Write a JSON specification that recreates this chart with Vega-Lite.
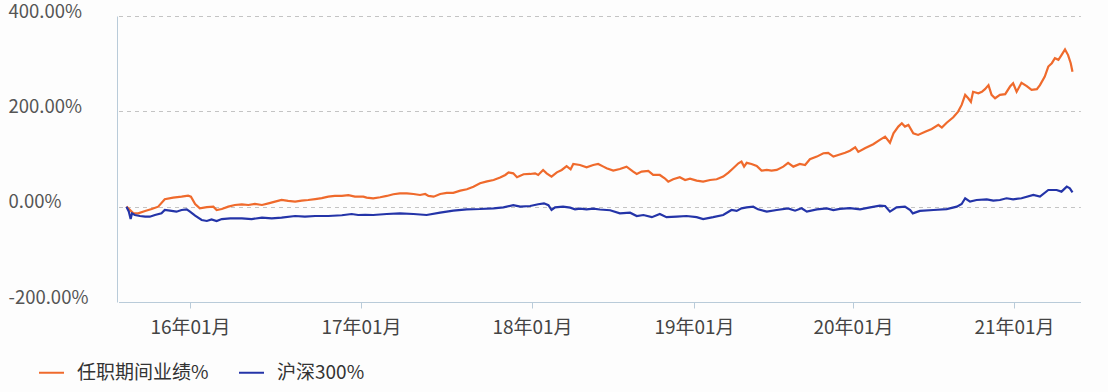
{
  "$schema": "https://vega.github.io/schema/vega-lite/v6.json",
  "width": 965,
  "height": 286,
  "autosize": "none",
  "padding": {"left": 117, "top": 16, "right": 26, "bottom": 90},
  "background": "#fdfdfd",
  "config": {"view": {"stroke": null}, "font": "Noto Sans CJK SC"},
  "data": {
    "format": {"parse": {"d": "date:'%Y-%j'"}},
    "values": [
      {"s": "任职期间业绩%", "d": "2015-230", "v": 0},
      {"s": "任职期间业绩%", "d": "2015-245", "v": -14},
      {"s": "任职期间业绩%", "d": "2015-255", "v": -14},
      {"s": "任职期间业绩%", "d": "2015-270", "v": -9},
      {"s": "任职期间业绩%", "d": "2015-284", "v": -5},
      {"s": "任职期间业绩%", "d": "2015-298", "v": 0},
      {"s": "任职期间业绩%", "d": "2015-312", "v": 15.5},
      {"s": "任职期间业绩%", "d": "2015-330", "v": 19},
      {"s": "任职期间业绩%", "d": "2015-348", "v": 21},
      {"s": "任职期间业绩%", "d": "2015-362", "v": 23},
      {"s": "任职期间业绩%", "d": "2016-003", "v": 21},
      {"s": "任职期间业绩%", "d": "2016-012", "v": 5.7},
      {"s": "任职期间业绩%", "d": "2016-022", "v": -3.5},
      {"s": "任职期间业绩%", "d": "2016-037", "v": -1},
      {"s": "任职期间业绩%", "d": "2016-051", "v": 0},
      {"s": "任职期间业绩%", "d": "2016-058", "v": -7},
      {"s": "任职期间业绩%", "d": "2016-069", "v": -5},
      {"s": "任职期间业绩%", "d": "2016-083", "v": 0},
      {"s": "任职期间业绩%", "d": "2016-097", "v": 3.5},
      {"s": "任职期间业绩%", "d": "2016-112", "v": 5},
      {"s": "任职期间业绩%", "d": "2016-126", "v": 3.5},
      {"s": "任职期间业绩%", "d": "2016-140", "v": 5.7},
      {"s": "任职期间业绩%", "d": "2016-155", "v": 3.5},
      {"s": "任职期间业绩%", "d": "2016-169", "v": 7},
      {"s": "任职期间业绩%", "d": "2016-183", "v": 10.5},
      {"s": "任职期间业绩%", "d": "2016-197", "v": 14},
      {"s": "任职期间业绩%", "d": "2016-211", "v": 12},
      {"s": "任职期间业绩%", "d": "2016-226", "v": 10.5},
      {"s": "任职期间业绩%", "d": "2016-240", "v": 12.6},
      {"s": "任职期间业绩%", "d": "2016-254", "v": 14},
      {"s": "任职期间业绩%", "d": "2016-269", "v": 16},
      {"s": "任职期间业绩%", "d": "2016-283", "v": 18},
      {"s": "任职期间业绩%", "d": "2016-297", "v": 21},
      {"s": "任职期间业绩%", "d": "2016-311", "v": 22.5},
      {"s": "任职期间业绩%", "d": "2016-326", "v": 22.5},
      {"s": "任职期间业绩%", "d": "2016-340", "v": 24},
      {"s": "任职期间业绩%", "d": "2016-354", "v": 21},
      {"s": "任职期间业绩%", "d": "2017-006", "v": 21},
      {"s": "任职期间业绩%", "d": "2017-013", "v": 19},
      {"s": "任职期间业绩%", "d": "2017-027", "v": 17.6},
      {"s": "任职期间业绩%", "d": "2017-042", "v": 19.7},
      {"s": "任职期间业绩%", "d": "2017-056", "v": 22.5},
      {"s": "任职期间业绩%", "d": "2017-070", "v": 26},
      {"s": "任职期间业绩%", "d": "2017-084", "v": 28},
      {"s": "任职期间业绩%", "d": "2017-099", "v": 28},
      {"s": "任职期间业绩%", "d": "2017-113", "v": 26.6},
      {"s": "任职期间业绩%", "d": "2017-127", "v": 24.5},
      {"s": "任职期间业绩%", "d": "2017-138", "v": 26.6},
      {"s": "任职期间业绩%", "d": "2017-145", "v": 22.5},
      {"s": "任职期间业绩%", "d": "2017-156", "v": 21},
      {"s": "任职期间业绩%", "d": "2017-170", "v": 26.6},
      {"s": "任职期间业绩%", "d": "2017-184", "v": 29},
      {"s": "任职期间业绩%", "d": "2017-198", "v": 29},
      {"s": "任职期间业绩%", "d": "2017-213", "v": 33.6},
      {"s": "任职期间业绩%", "d": "2017-227", "v": 36.5},
      {"s": "任职期间业绩%", "d": "2017-241", "v": 42},
      {"s": "任职期间业绩%", "d": "2017-255", "v": 49},
      {"s": "任职期间业绩%", "d": "2017-270", "v": 53},
      {"s": "任职期间业绩%", "d": "2017-284", "v": 56},
      {"s": "任职期间业绩%", "d": "2017-298", "v": 61},
      {"s": "任职期间业绩%", "d": "2017-309", "v": 66.5},
      {"s": "任职期间业绩%", "d": "2017-316", "v": 72},
      {"s": "任职期间业绩%", "d": "2017-326", "v": 70},
      {"s": "任职期间业绩%", "d": "2017-334", "v": 61.7},
      {"s": "任职期间业绩%", "d": "2017-348", "v": 68},
      {"s": "任职期间业绩%", "d": "2017-362", "v": 68.6},
      {"s": "任职期间业绩%", "d": "2018-008", "v": 70},
      {"s": "任职期间业绩%", "d": "2018-015", "v": 66.5},
      {"s": "任职期间业绩%", "d": "2018-026", "v": 77},
      {"s": "任职期间业绩%", "d": "2018-034", "v": 70},
      {"s": "任职期间业绩%", "d": "2018-045", "v": 63},
      {"s": "任职期间业绩%", "d": "2018-057", "v": 72},
      {"s": "任职期间业绩%", "d": "2018-068", "v": 77},
      {"s": "任职期间业绩%", "d": "2018-079", "v": 85},
      {"s": "任职期间业绩%", "d": "2018-088", "v": 78.5},
      {"s": "任职期间业绩%", "d": "2018-094", "v": 89.6},
      {"s": "任职期间业绩%", "d": "2018-109", "v": 87.5},
      {"s": "任职期间业绩%", "d": "2018-124", "v": 82.7},
      {"s": "任职期间业绩%", "d": "2018-139", "v": 87.5},
      {"s": "任职期间业绩%", "d": "2018-150", "v": 89.6},
      {"s": "任职期间业绩%", "d": "2018-162", "v": 84},
      {"s": "任职期间业绩%", "d": "2018-169", "v": 80.6},
      {"s": "任职期间业绩%", "d": "2018-184", "v": 75.6},
      {"s": "任职期间业绩%", "d": "2018-199", "v": 79},
      {"s": "任职期间业绩%", "d": "2018-214", "v": 84},
      {"s": "任职期间业绩%", "d": "2018-229", "v": 73.5},
      {"s": "任职期间业绩%", "d": "2018-237", "v": 68.6},
      {"s": "任职期间业绩%", "d": "2018-248", "v": 73.5},
      {"s": "任职期间业绩%", "d": "2018-263", "v": 75},
      {"s": "任职期间业绩%", "d": "2018-274", "v": 66.5},
      {"s": "任职期间业绩%", "d": "2018-289", "v": 66.5},
      {"s": "任职期间业绩%", "d": "2018-300", "v": 59.6},
      {"s": "任职期间业绩%", "d": "2018-308", "v": 52.5},
      {"s": "任职期间业绩%", "d": "2018-319", "v": 57.5},
      {"s": "任职期间业绩%", "d": "2018-334", "v": 61.7},
      {"s": "任职期间业绩%", "d": "2018-346", "v": 56},
      {"s": "任职期间业绩%", "d": "2018-357", "v": 58.8},
      {"s": "任职期间业绩%", "d": "2019-007", "v": 54.6},
      {"s": "任职期间业绩%", "d": "2019-022", "v": 52.5},
      {"s": "任职期间业绩%", "d": "2019-038", "v": 56},
      {"s": "任职期间业绩%", "d": "2019-053", "v": 57.5},
      {"s": "任职期间业绩%", "d": "2019-068", "v": 63},
      {"s": "任职期间业绩%", "d": "2019-080", "v": 71.4},
      {"s": "任职期间业绩%", "d": "2019-091", "v": 80.6},
      {"s": "任职期间业绩%", "d": "2019-103", "v": 91},
      {"s": "任职期间业绩%", "d": "2019-110", "v": 94.5},
      {"s": "任职期间业绩%", "d": "2019-116", "v": 84},
      {"s": "任职期间业绩%", "d": "2019-122", "v": 92},
      {"s": "任职期间业绩%", "d": "2019-133", "v": 89.6},
      {"s": "任职期间业绩%", "d": "2019-145", "v": 85.4},
      {"s": "任职期间业绩%", "d": "2019-156", "v": 75.6},
      {"s": "任职期间业绩%", "d": "2019-168", "v": 77},
      {"s": "任职期间业绩%", "d": "2019-179", "v": 75.6},
      {"s": "任职期间业绩%", "d": "2019-191", "v": 77},
      {"s": "任职期间业绩%", "d": "2019-206", "v": 84},
      {"s": "任职期间业绩%", "d": "2019-217", "v": 92},
      {"s": "任职期间业绩%", "d": "2019-229", "v": 84},
      {"s": "任职期间业绩%", "d": "2019-244", "v": 89.6},
      {"s": "任职期间业绩%", "d": "2019-256", "v": 87.5},
      {"s": "任职期间业绩%", "d": "2019-267", "v": 99.5},
      {"s": "任职期间业绩%", "d": "2019-283", "v": 105},
      {"s": "任职期间业绩%", "d": "2019-298", "v": 112},
      {"s": "任职期间业绩%", "d": "2019-309", "v": 113},
      {"s": "任职期间业绩%", "d": "2019-321", "v": 105},
      {"s": "任职期间业绩%", "d": "2019-332", "v": 108.5},
      {"s": "任职期间业绩%", "d": "2019-348", "v": 113},
      {"s": "任职期间业绩%", "d": "2019-359", "v": 117.5},
      {"s": "任职期间业绩%", "d": "2020-006", "v": 124.7},
      {"s": "任职期间业绩%", "d": "2020-013", "v": 115},
      {"s": "任职期间业绩%", "d": "2020-028", "v": 122.6},
      {"s": "任职期间业绩%", "d": "2020-047", "v": 131},
      {"s": "任职期间业绩%", "d": "2020-062", "v": 140},
      {"s": "任职期间业绩%", "d": "2020-074", "v": 147},
      {"s": "任职期间业绩%", "d": "2020-085", "v": 134},
      {"s": "任职期间业绩%", "d": "2020-093", "v": 154},
      {"s": "任职期间业绩%", "d": "2020-104", "v": 168},
      {"s": "任职期间业绩%", "d": "2020-112", "v": 175},
      {"s": "任职期间业绩%", "d": "2020-119", "v": 168},
      {"s": "任职期间业绩%", "d": "2020-127", "v": 171.5},
      {"s": "任职期间业绩%", "d": "2020-138", "v": 154},
      {"s": "任职期间业绩%", "d": "2020-149", "v": 150.5},
      {"s": "任职期间业绩%", "d": "2020-165", "v": 157},
      {"s": "任职期间业绩%", "d": "2020-180", "v": 163},
      {"s": "任职期间业绩%", "d": "2020-195", "v": 171.5},
      {"s": "任职期间业绩%", "d": "2020-203", "v": 165.8},
      {"s": "任职期间业绩%", "d": "2020-214", "v": 176},
      {"s": "任职期间业绩%", "d": "2020-229", "v": 187.6},
      {"s": "任职期间业绩%", "d": "2020-240", "v": 199.4},
      {"s": "任职期间业绩%", "d": "2020-248", "v": 213.5},
      {"s": "任职期间业绩%", "d": "2020-256", "v": 234.5},
      {"s": "任职期间业绩%", "d": "2020-263", "v": 227.5},
      {"s": "任职期间业绩%", "d": "2020-269", "v": 220},
      {"s": "任职期间业绩%", "d": "2020-274", "v": 241},
      {"s": "任职期间业绩%", "d": "2020-286", "v": 238},
      {"s": "任职期间业绩%", "d": "2020-294", "v": 241},
      {"s": "任职期间业绩%", "d": "2020-301", "v": 246.4},
      {"s": "任职期间业绩%", "d": "2020-309", "v": 255},
      {"s": "任职期间业绩%", "d": "2020-316", "v": 234.5},
      {"s": "任职期间业绩%", "d": "2020-324", "v": 227.5},
      {"s": "任职期间业绩%", "d": "2020-335", "v": 234.5},
      {"s": "任职期间业绩%", "d": "2020-347", "v": 236},
      {"s": "任职期间业绩%", "d": "2020-358", "v": 252},
      {"s": "任职期间业绩%", "d": "2020-365", "v": 259},
      {"s": "任职期间业绩%", "d": "2021-007", "v": 241},
      {"s": "任职期间业绩%", "d": "2021-018", "v": 260},
      {"s": "任职期间业绩%", "d": "2021-030", "v": 253},
      {"s": "任职期间业绩%", "d": "2021-041", "v": 245},
      {"s": "任职期间业绩%", "d": "2021-053", "v": 246.4},
      {"s": "任职期间业绩%", "d": "2021-060", "v": 255},
      {"s": "任职期间业绩%", "d": "2021-071", "v": 273},
      {"s": "任职期间业绩%", "d": "2021-079", "v": 294},
      {"s": "任职期间业绩%", "d": "2021-087", "v": 301},
      {"s": "任职期间业绩%", "d": "2021-094", "v": 311.5},
      {"s": "任职期间业绩%", "d": "2021-102", "v": 308},
      {"s": "任职期间业绩%", "d": "2021-109", "v": 318},
      {"s": "任职期间业绩%", "d": "2021-117", "v": 330},
      {"s": "任职期间业绩%", "d": "2021-124", "v": 318},
      {"s": "任职期间业绩%", "d": "2021-130", "v": 301},
      {"s": "任职期间业绩%", "d": "2021-134", "v": 283},
      {"s": "沪深300%", "d": "2015-230", "v": 0},
      {"s": "沪深300%", "d": "2015-235", "v": -10},
      {"s": "沪深300%", "d": "2015-239", "v": -26},
      {"s": "沪深300%", "d": "2015-242", "v": -14},
      {"s": "沪深300%", "d": "2015-248", "v": -17.5},
      {"s": "沪深300%", "d": "2015-259", "v": -19.6},
      {"s": "沪深300%", "d": "2015-270", "v": -21},
      {"s": "沪深300%", "d": "2015-280", "v": -21},
      {"s": "沪深300%", "d": "2015-291", "v": -17.5},
      {"s": "沪深300%", "d": "2015-305", "v": -14},
      {"s": "沪深300%", "d": "2015-312", "v": -7},
      {"s": "沪深300%", "d": "2015-323", "v": -8.4},
      {"s": "沪深300%", "d": "2015-337", "v": -10.5},
      {"s": "沪深300%", "d": "2015-348", "v": -7},
      {"s": "沪深300%", "d": "2015-359", "v": -5.6},
      {"s": "沪深300%", "d": "2016-001", "v": -10.5},
      {"s": "沪深300%", "d": "2016-012", "v": -19},
      {"s": "沪深300%", "d": "2016-026", "v": -28},
      {"s": "沪深300%", "d": "2016-037", "v": -30},
      {"s": "沪深300%", "d": "2016-047", "v": -26.6},
      {"s": "沪深300%", "d": "2016-058", "v": -30},
      {"s": "沪深300%", "d": "2016-069", "v": -26},
      {"s": "沪深300%", "d": "2016-087", "v": -24.5},
      {"s": "沪深300%", "d": "2016-112", "v": -24.5},
      {"s": "沪深300%", "d": "2016-133", "v": -26},
      {"s": "沪深300%", "d": "2016-155", "v": -23},
      {"s": "沪深300%", "d": "2016-176", "v": -24.5},
      {"s": "沪深300%", "d": "2016-197", "v": -23},
      {"s": "沪深300%", "d": "2016-226", "v": -19.6},
      {"s": "沪深300%", "d": "2016-247", "v": -21},
      {"s": "沪深300%", "d": "2016-269", "v": -19.6},
      {"s": "沪深300%", "d": "2016-297", "v": -19.6},
      {"s": "沪深300%", "d": "2016-326", "v": -18},
      {"s": "沪深300%", "d": "2016-347", "v": -15.4},
      {"s": "沪深300%", "d": "2016-361", "v": -17.5},
      {"s": "沪深300%", "d": "2017-010", "v": -17},
      {"s": "沪深300%", "d": "2017-027", "v": -17.5},
      {"s": "沪深300%", "d": "2017-056", "v": -15.4},
      {"s": "沪深300%", "d": "2017-084", "v": -14},
      {"s": "沪深300%", "d": "2017-113", "v": -15.4},
      {"s": "沪深300%", "d": "2017-141", "v": -17.5},
      {"s": "沪深300%", "d": "2017-170", "v": -12.6},
      {"s": "沪深300%", "d": "2017-198", "v": -8.4},
      {"s": "沪深300%", "d": "2017-227", "v": -5.6},
      {"s": "沪深300%", "d": "2017-255", "v": -4.9},
      {"s": "沪深300%", "d": "2017-284", "v": -3.5},
      {"s": "沪深300%", "d": "2017-305", "v": -1.4},
      {"s": "沪深300%", "d": "2017-326", "v": 3},
      {"s": "沪深300%", "d": "2017-341", "v": 0},
      {"s": "沪深300%", "d": "2017-362", "v": 1.4},
      {"s": "沪深300%", "d": "2018-015", "v": 5},
      {"s": "沪深300%", "d": "2018-028", "v": 7},
      {"s": "沪深300%", "d": "2018-038", "v": 3},
      {"s": "沪深300%", "d": "2018-045", "v": -7},
      {"s": "沪深300%", "d": "2018-053", "v": -1.4},
      {"s": "沪深300%", "d": "2018-071", "v": 0},
      {"s": "沪深300%", "d": "2018-087", "v": -2},
      {"s": "沪深300%", "d": "2018-098", "v": -5.6},
      {"s": "沪深300%", "d": "2018-109", "v": -4},
      {"s": "沪深300%", "d": "2018-124", "v": -5.6},
      {"s": "沪深300%", "d": "2018-139", "v": -4},
      {"s": "沪深300%", "d": "2018-154", "v": -6},
      {"s": "沪深300%", "d": "2018-177", "v": -7.5},
      {"s": "沪深300%", "d": "2018-199", "v": -14},
      {"s": "沪深300%", "d": "2018-222", "v": -12.6},
      {"s": "沪深300%", "d": "2018-237", "v": -19.6},
      {"s": "沪深300%", "d": "2018-252", "v": -17.5},
      {"s": "沪深300%", "d": "2018-271", "v": -22},
      {"s": "沪深300%", "d": "2018-289", "v": -15.4},
      {"s": "沪深300%", "d": "2018-304", "v": -22},
      {"s": "沪深300%", "d": "2018-327", "v": -21},
      {"s": "沪深300%", "d": "2018-349", "v": -19.6},
      {"s": "沪深300%", "d": "2019-007", "v": -22},
      {"s": "沪深300%", "d": "2019-022", "v": -26},
      {"s": "沪深300%", "d": "2019-045", "v": -22},
      {"s": "沪深300%", "d": "2019-068", "v": -17.5},
      {"s": "沪深300%", "d": "2019-087", "v": -7},
      {"s": "沪深300%", "d": "2019-099", "v": -9},
      {"s": "沪深300%", "d": "2019-110", "v": -3.5},
      {"s": "沪深300%", "d": "2019-122", "v": -1.4},
      {"s": "沪深300%", "d": "2019-137", "v": 0},
      {"s": "沪深300%", "d": "2019-148", "v": -5.6},
      {"s": "沪深300%", "d": "2019-168", "v": -10.5},
      {"s": "沪深300%", "d": "2019-191", "v": -7},
      {"s": "沪深300%", "d": "2019-217", "v": -3.5},
      {"s": "沪深300%", "d": "2019-233", "v": -8.4},
      {"s": "沪深300%", "d": "2019-248", "v": -3.5},
      {"s": "沪深300%", "d": "2019-260", "v": -10.5},
      {"s": "沪深300%", "d": "2019-283", "v": -5.6},
      {"s": "沪深300%", "d": "2019-306", "v": -3.5},
      {"s": "沪深300%", "d": "2019-321", "v": -7},
      {"s": "沪深300%", "d": "2019-336", "v": -4.5},
      {"s": "沪深300%", "d": "2019-359", "v": -3},
      {"s": "沪深300%", "d": "2020-017", "v": -5.6},
      {"s": "沪深300%", "d": "2020-040", "v": -1.4},
      {"s": "沪深300%", "d": "2020-062", "v": 2},
      {"s": "沪深300%", "d": "2020-074", "v": 1.4},
      {"s": "沪深300%", "d": "2020-085", "v": -10.5},
      {"s": "沪深300%", "d": "2020-100", "v": -1.4},
      {"s": "沪深300%", "d": "2020-119", "v": 0},
      {"s": "沪深300%", "d": "2020-131", "v": -7},
      {"s": "沪深300%", "d": "2020-137", "v": -14},
      {"s": "沪深300%", "d": "2020-153", "v": -9},
      {"s": "沪深300%", "d": "2020-184", "v": -7},
      {"s": "沪深300%", "d": "2020-214", "v": -5},
      {"s": "沪深300%", "d": "2020-237", "v": 0},
      {"s": "沪深300%", "d": "2020-248", "v": 5.6},
      {"s": "沪深300%", "d": "2020-256", "v": 17.6},
      {"s": "沪深300%", "d": "2020-267", "v": 10.5},
      {"s": "沪深300%", "d": "2020-282", "v": 14},
      {"s": "沪深300%", "d": "2020-305", "v": 15.4},
      {"s": "沪深300%", "d": "2020-320", "v": 12.6},
      {"s": "沪深300%", "d": "2020-335", "v": 14},
      {"s": "沪深300%", "d": "2020-350", "v": 17.6},
      {"s": "沪深300%", "d": "2020-365", "v": 15.4},
      {"s": "沪深300%", "d": "2021-018", "v": 17.6},
      {"s": "沪深300%", "d": "2021-045", "v": 24.5},
      {"s": "沪深300%", "d": "2021-060", "v": 21},
      {"s": "沪深300%", "d": "2021-079", "v": 35},
      {"s": "沪深300%", "d": "2021-098", "v": 35},
      {"s": "沪深300%", "d": "2021-109", "v": 31.5},
      {"s": "沪深300%", "d": "2021-121", "v": 42},
      {"s": "沪深300%", "d": "2021-128", "v": 38.5},
      {"s": "沪深300%", "d": "2021-134", "v": 30}
    ]
  },
  "mark": {"type": "line", "strokeWidth": 2.2},
  "encoding": {
    "x": {
      "field": "d",
      "type": "temporal",
      "title": null,
      "scale": {
        "nice": false,
        "domainRaw": {"expr": "[datetime(2015,7,1), datetime(2016,0,1), datetime(2017,0,1), datetime(2018,0,1), datetime(2019,0,1), datetime(2020,0,1), datetime(2021,0,1), datetime(2021,5,1)]"},
        "range": [1.5, 73, 244, 415, 577, 736, 897, 963.4]
      },
      "axis": {
        "values": [
          {"year": 2016, "month": 1, "date": 1},
          {"year": 2017, "month": 1, "date": 1},
          {"year": 2018, "month": 1, "date": 1},
          {"year": 2019, "month": 1, "date": 1},
          {"year": 2020, "month": 1, "date": 1},
          {"year": 2021, "month": 1, "date": 1}
        ],
        "format": "%y年%m月",
        "grid": false,
        "labelFont": "Noto Sans CJK SC",
        "labelFontSize": 19,
        "labelColor": "#444444",
        "labelPadding": 10,
        "domainColor": "#b9cbd9",
        "tickColor": "#b9cbd9",
        "tickSize": 6
      }
    },
    "y": {
      "field": "v",
      "type": "quantitative",
      "title": null,
      "scale": {"domain": [-200, 400], "nice": false, "zero": false},
      "axis": {
        "values": [-200, 0, 200, 400],
        "labelExpr": "(datum.value < 0 ? '-' : '') + format(abs(datum.value), '.2f') + '%'",
        "grid": true,
        "gridDash": [4, 4],
        "gridColor": "#c4c4c4",
        "ticks": false,
        "tickSize": 0,
        "domainColor": "#b9cbd9",
        "labelAlign": "left",
        "labelFlush": false,
        "labelPadding": 109,
        "labelOffset": -5,
        "labelFont": "Noto Sans CJK SC",
        "labelFontSize": 18.5,
        "labelColor": "#555555"
      }
    },
    "color": {
      "field": "s",
      "type": "nominal",
      "scale": {"domain": ["任职期间业绩%", "沪深300%"], "range": ["#ef6a2c", "#2434a8"]},
      "legend": {
        "orient": "none",
        "legendX": -79,
        "legendY": 343,
        "direction": "horizontal",
        "title": null,
        "symbolType": "stroke",
        "symbolSize": 625,
        "symbolStrokeWidth": 2,
        "labelFont": "Noto Sans CJK SC",
        "labelFontSize": 19,
        "labelColor": "#333333",
        "labelOffset": 12,
        "columnPadding": 26,
        "padding": 0
      }
    }
  }
}
